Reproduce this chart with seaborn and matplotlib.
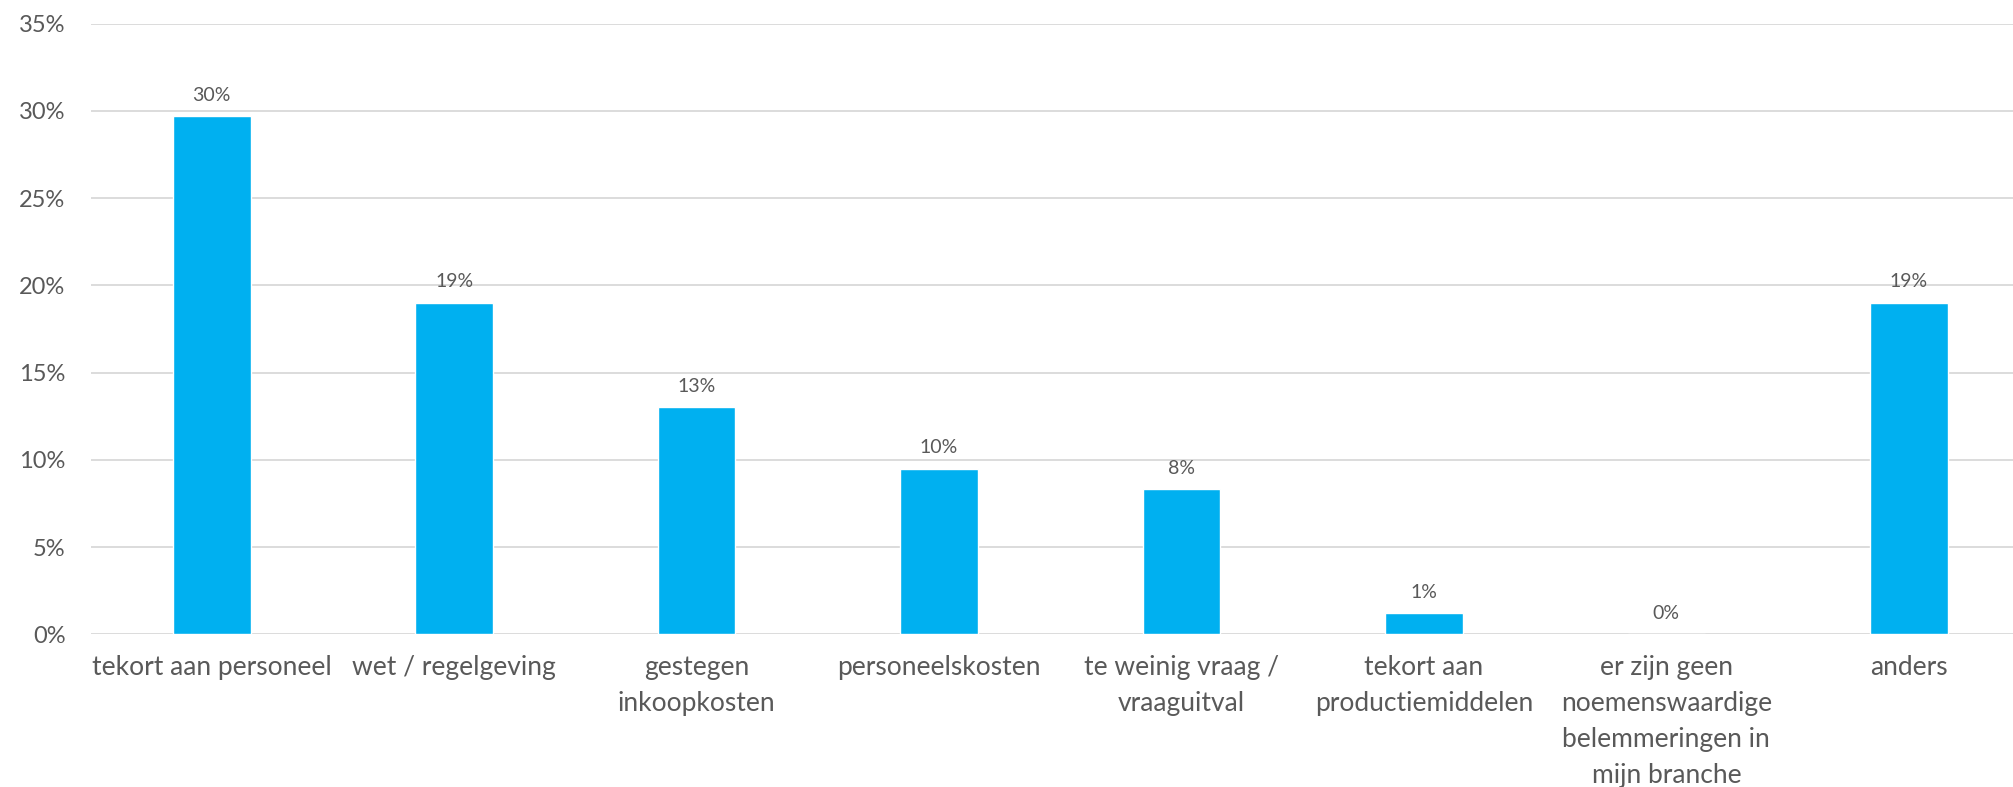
import matplotlib
matplotlib.use("Agg")
import matplotlib.pyplot as plt
import seaborn as sns
import pandas as pd

# ─── DATA ───────────────────────────────────────────────────────────────────

categories = [
    "tekort aan personeel",
    "wet / regelgeving",
    "gestegen\ninkoopkosten",
    "personeelskosten",
    "te weinig vraag /\nvraaguitval",
    "tekort aan\nproductiemiddelen",
    "er zijn geen\nnoemenswaardige\nbelemmeringen in\nmijn branche",
    "anders",
]
values = [29.7, 19.0, 13.0, 9.5, 8.3, 1.2, 0.0, 19.0]
value_labels = ["30%", "19%", "13%", "10%", "8%", "1%", "0%", "19%"]
y_ticks = [0, 5, 10, 15, 20, 25, 30, 35]

BAR_COLOR = "#00B0F0"
TEXT_COLOR = "#595959"
GRID_COLOR = "#D9D9D9"

df = pd.DataFrame({"category": categories, "value": values})

# ─── PLOT ───────────────────────────────────────────────────────────────────

sns.set_theme(style="white")
plt.rcParams["font.family"] = ["Lato", "DejaVu Sans"]

fig = plt.figure(figsize=(20.13, 7.87), dpi=100)
ax = fig.add_axes([0.045, 0.194, 0.955, 0.776])

sns.barplot(data=df, x="category", y="value", color=BAR_COLOR,
            width=0.32, saturation=1, ax=ax, zorder=3)

ax.bar_label(ax.containers[0], labels=value_labels, padding=9,
             fontsize=14, color=TEXT_COLOR)

# last category runs a little past the right edge, like the original
ax.set_xlim(-0.5, 7.43)
ax.set_ylim(0, 35)
ax.set_yticks(y_ticks)
ax.set_yticklabels([f"{t}%" for t in y_ticks])
ax.yaxis.grid(True, color=GRID_COLOR, linewidth=1.3, zorder=0)
ax.set_axisbelow(True)

for side in ["top", "right", "left", "bottom"]:
    ax.spines[side].set_visible(False)

ax.tick_params(axis="y", length=0, pad=18, labelsize=17, labelcolor=TEXT_COLOR)
ax.tick_params(axis="x", length=0, pad=15, labelsize=19, labelcolor=TEXT_COLOR)
for lbl in ax.get_xticklabels():
    lbl.set_verticalalignment("top")
    lbl.set_linespacing(1.55)

ax.set_xlabel("")
ax.set_ylabel("")

fig.savefig("out.png", dpi=100, facecolor="white")
